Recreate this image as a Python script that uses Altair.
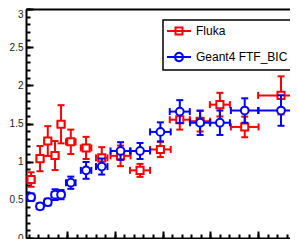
import altair as alt
import pandas as pd

# ---------------- data ----------------
series_names = ["Fluka", "Geant4 FTF_BIC"]
series_colors = ["#ff0000", "#0000ff"]

x_center = [1.23, 2.17, 2.98, 3.74, 4.37, 5.39, 6.99, 8.63, 10.6, 12.64,
            14.77, 16.8, 18.93, 21.0, 23.6, 27.4]
x_err = [0.35, 0.35, 0.35, 0.35, 0.35, 0.5, 0.55, 0.6, 1.05, 1.05,
         1.08, 1.05, 1.05, 1.05, 1.45, 2.4]

fluka_y = [0.766, 1.04, 1.27, 1.08, 1.49, 1.26, 1.18, 1.05, 1.076, 0.886,
           1.16, 1.55, 1.53, 1.747, 1.455, 1.868]
fluka_err = [0.095, 0.165, 0.195, 0.19, 0.25, 0.16, 0.145, 0.14, 0.135, 0.085,
             0.10, 0.13, 0.135, 0.155, 0.135, 0.25]

geant_y = [0.534, 0.415, 0.47, 0.568, 0.568, 0.724, 0.886, 0.936, 1.14, 1.14,
           1.39, 1.656, 1.51, 1.51, 1.67, 1.67]
geant_err = [0.05, 0.04, 0.045, 0.07, 0.06, 0.08, 0.11, 0.105, 0.115, 0.105,
             0.125, 0.15, 0.16, 0.16, 0.16, 0.2]

x_labels = [5, 10, 15, 20, 25]
x_major = [5, 10, 15, 20, 25]
x_minor = list(range(1, 29))
y_major = [0, 0.5, 1, 1.5, 2, 2.5, 3]
y_minor = [round(0.1 * i, 1) for i in range(31)]

# ---------------- table ----------------
rows = []
for name, ys, es in [(series_names[0], fluka_y, fluka_err),
                     (series_names[1], geant_y, geant_err)]:
    for xc, xe, yv, ye in zip(x_center, x_err, ys, es):
        rows.append(dict(series=name, x=xc, xlo=xc - xe, xhi=xc + xe,
                         y=yv, ylo=yv - ye, yhi=yv + ye))
df = pd.DataFrame(rows)

# ---------------- layout ----------------
W, H = 264, 229
FONT = "Liberation Sans"
xs = alt.Scale(domain=[0.7, 28.34], nice=False, zero=False)
ys_ = alt.Scale(domain=[0, 3], nice=False, zero=False)

ax_x_labels = alt.Axis(orient="bottom", values=x_labels, ticks=False, grid=False,
                       domain=True, domainColor="black", domainWidth=2,
                       labelFont=FONT, labelFontSize=10, labelColor="#222",
                       labelPadding=3, labelFlush=False, format="~g")
ax_x_major = alt.Axis(orient="top", offset=-H, values=x_major, ticks=True,
                      tickSize=7, tickWidth=2, tickColor="black", labels=False,
                      domain=False, grid=False)
ax_x_minor = alt.Axis(orient="top", offset=-H, values=x_minor, ticks=True,
                      tickSize=4, tickWidth=2, tickColor="black", labels=False,
                      domain=False, grid=False)
ax_x_top = alt.Axis(orient="top", ticks=False, labels=False, grid=False,
                    domain=True, domainColor="black", domainWidth=2)
ax_y_labels = alt.Axis(orient="left", values=y_major, ticks=False, grid=False,
                       domain=True, domainColor="black", domainWidth=2,
                       labelFont=FONT, labelFontSize=10, labelColor="#222",
                       labelPadding=3, labelFlush=False, format="~g",
                       labelBaseline={"condition": {"test": "datum.value == 3",
                                                    "value": "top"},
                                      "value": "middle"})
ax_y_major = alt.Axis(orient="right", offset=-W, values=y_major, ticks=True,
                      tickSize=7, tickWidth=2, tickColor="black", labels=False,
                      domain=False, grid=False)
ax_y_minor = alt.Axis(orient="right", offset=-W, values=y_minor, ticks=True,
                      tickSize=4, tickWidth=2, tickColor="black", labels=False,
                      domain=False, grid=False)


def series_layers(name, color, shape, size, first):
    base = alt.Chart(df).transform_filter(alt.datum.series == name)

    def a(axis):
        return axis if first else None

    hbar = base.mark_rule(strokeWidth=2, color=color).encode(
        x=alt.X("xlo:Q", scale=xs, axis=a(ax_x_labels), title=None),
        x2="xhi:Q",
        y=alt.Y("y:Q", scale=ys_, axis=a(ax_y_labels), title=None))
    vbar = base.mark_rule(strokeWidth=2, color=color).encode(
        x=alt.X("x:Q", scale=xs, axis=a(ax_x_major), title=None),
        y=alt.Y("ylo:Q", scale=ys_, axis=a(ax_y_major), title=None),
        y2="yhi:Q")
    cap_xlo = base.mark_tick(orient="vertical", size=7, thickness=2,
                             color=color, opacity=1).encode(
        x=alt.X("xlo:Q", scale=xs, axis=a(ax_x_minor), title=None),
        y=alt.Y("y:Q", scale=ys_, axis=a(ax_y_minor), title=None))
    cap_xhi = base.mark_tick(orient="vertical", size=7, thickness=2,
                             color=color, opacity=1).encode(
        x=alt.X("xhi:Q", scale=xs, axis=a(ax_x_top), title=None),
        y=alt.Y("y:Q", scale=ys_, axis=None))
    cap_ylo = base.mark_tick(orient="horizontal", size=7, thickness=2,
                             color=color, opacity=1).encode(
        x=alt.X("x:Q", scale=xs, axis=None),
        y=alt.Y("ylo:Q", scale=ys_, axis=None))
    cap_yhi = base.mark_tick(orient="horizontal", size=7, thickness=2,
                             color=color, opacity=1).encode(
        x=alt.X("x:Q", scale=xs, axis=None),
        y=alt.Y("yhi:Q", scale=ys_, axis=None))
    pts = base.mark_point(shape=shape, size=size, filled=False, fill="white",
                          stroke=color, strokeWidth=2, opacity=1).encode(
        x=alt.X("x:Q", scale=xs, axis=None),
        y=alt.Y("y:Q", scale=ys_, axis=None))
    return [hbar, vbar, cap_xlo, cap_xhi, cap_ylo, cap_yhi, pts]


# legend glyphs: a line with the open marker on it (unit = 6 px)
legend_paths = [
    "M-1.167,0H2.833M0.25,-0.583H1.417V0.583H0.25Z",
    "M-1.167,0H2.833M1.5,0A0.667,0.667,0,1,1,0.167,0A0.667,0.667,0,1,1,1.5,0Z",
]

legend_layer = alt.Chart(df).mark_point(filled=False, opacity=0).encode(
    x=alt.X("x:Q", scale=xs, axis=None),
    y=alt.Y("y:Q", scale=ys_, axis=None),
    color=alt.Color("series:N",
                    scale=alt.Scale(domain=series_names, range=series_colors),
                    legend=alt.Legend(title=None, symbolOpacity=1)),
    shape=alt.Shape("series:N",
                    scale=alt.Scale(domain=series_names, range=legend_paths),
                    legend=alt.Legend(title=None, symbolOpacity=1)),
)

layers = (series_layers(series_names[0], series_colors[0], "square", 50, True)
          + series_layers(series_names[1], series_colors[1], "circle", 60, False)
          + [legend_layer])

chart = alt.layer(*layers).resolve_axis(
    x="independent", y="independent"
).properties(
    width=W, height=H, autosize="none",
    padding={"left": 18, "top": 1, "right": 0, "bottom": 1},
).configure_view(stroke=None).configure_legend(
    orient="none", legendX=137, legendY=11,
    strokeColor="black", strokeWidth=1.5, fillColor="white",
    padding=4, rowPadding=9, labelFont=FONT, labelFontSize=12,
    labelColor="black", labelOffset=15, symbolSize=144,
    symbolStrokeWidth=2, symbolFillColor="transparent",
)

chart.save("out.html", embed_options={"renderer": "svg", "actions": False})
